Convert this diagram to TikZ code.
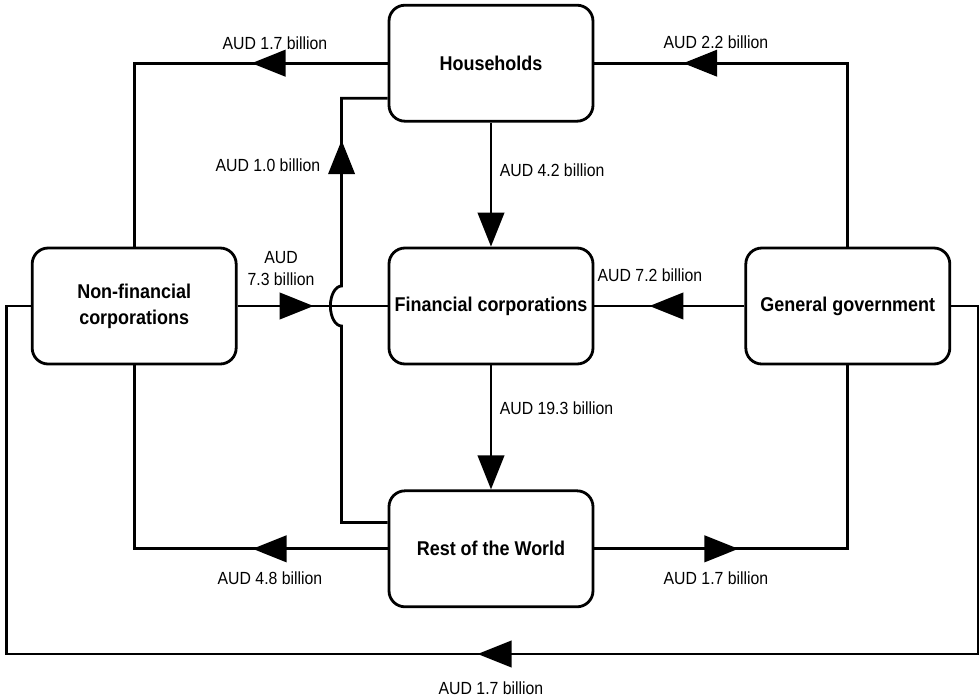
\documentclass[tikz,border=0pt]{standalone}
\usepackage{fontspec}
\setmainfont{Liberation Sans}[FakeStretch=0.9]
\usetikzlibrary{arrows.meta,positioning,calc,decorations.markings}

\begin{document}
\begin{tikzpicture}[node distance=3.1cm and 3.75cm, >={Triangle[length=0.85cm,width=0.66cm]}, line width=2pt, every node/.style={font=\fontsize{12.5}{16}\selectfont}]
\tikzstyle{sector}=[rounded corners=0.4cm, draw, line width=2pt, minimum width=5.1cm, minimum height=2.9cm, align=center, font=\fontsize{14.2}{18.5}\selectfont\bfseries]
\tikzstyle{amount}=[inner sep=1pt, align=center]
\tikzset{tipat/.style={postaction={decorate, decoration={markings, mark=at position #1 with {\arrow{>}}}}}}
\useasboundingbox (-12.275,-9.8) rectangle (12.2,7.65);
% sectors
\node[sector] (fc) {Financial corporations};
\node[sector, above=of fc] (hh) {Households};
\node[sector, below=of fc] (row) {Rest of the World};
\node[sector, left=of fc] (nfc) {Non-financial\\corporations};
\node[sector, right=of fc] (gg) {General government};
\coordinate (hop) at ($(fc.west)+(-1.15,0)$);
% flows
\draw[tipat=3.4cm] (hh.west) -| (nfc.north);
\draw[tipat=8.7cm] (gg.north) |- (hh.east);
\draw[->] (hh.south) -- (fc.north);
\draw[tipat=1.9cm] (nfc.east) -- (fc.west);
\draw[tipat=2.375cm] (gg.west) -- (fc.east);
\draw[->] (fc.south) -- (row.north);
\draw[tipat=-2.2cm] ([yshift=0.66cm]row.west) -| ([yshift=-0.5cm]hop) arc[start angle=270, end angle=90, x radius=0.28cm, y radius=0.5cm] |- ([yshift=-0.875cm]hh.west);
\draw[tipat=3.375cm] (row.west) -| (nfc.south);
\draw[tipat=3.6cm] (row.east) -| (gg.south);
\draw[tipat=21.9cm] (gg.east) -- ++(0.68,0) -- ++(0,-8.7) -| ([xshift=-0.6cm]nfc.west) -- (nfc.west);
% amounts
\node[amount] (l1) at (-5.4,6.575) {AUD 1.7 billion};
\node[amount] (l2) at (5.625,6.6) {AUD 2.2 billion};
\node[amount, anchor=east] (l3) at (-4.2,3.525) {AUD 1.0 billion};
\node[amount, anchor=west] (l4) at (0.15,3.4) {AUD 4.2 billion};
\node[amount] (l5) at (-5.25,0.94) {AUD\\7.3 billion};
\node[amount] (l6) at (3.975,0.775) {AUD 7.2 billion};
\node[amount, anchor=west] (l7) at (0.15,-2.55) {AUD 19.3 billion};
\node[amount] (l8) at (-5.525,-6.8) {AUD 4.8 billion};
\node[amount] (l9) at (5.625,-6.8) {AUD 1.7 billion};
\node[amount] (l10) at (0,-9.55) {AUD 1.7 billion};
\end{tikzpicture}
\end{document}
